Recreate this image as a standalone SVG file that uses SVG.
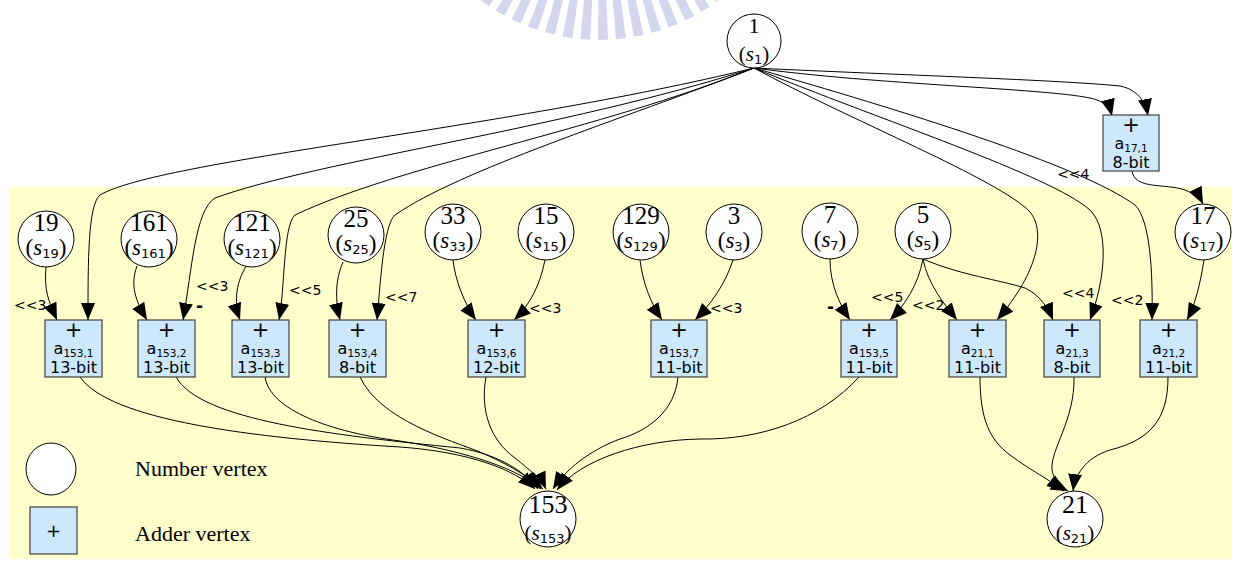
<svg xmlns="http://www.w3.org/2000/svg" width="1234" height="561" viewBox="0 0 1234 561">
  <defs>
    <marker id="ah" markerUnits="userSpaceOnUse" markerWidth="20" markerHeight="16" refX="17" refY="7" orient="auto">
      <path d="M0,0 L17,7 L0,14 z" fill="#000"/>
    </marker>
    <clipPath id="seal">
      <circle cx="600" cy="-160" r="200"/>
    </clipPath>
    <style>
      .num { font-family: "Liberation Serif", serif; font-size: 25px; text-anchor: middle; fill: #000; }
      .sv { font-family: "Liberation Serif", serif; font-size: 23px; text-anchor: middle; fill: #000; }
      .it { font-style: italic; }
      .ssub { font-family: "DejaVu Sans", sans-serif; font-size: 13px; }
      .nv circle, .nv ellipse { fill: #fff; stroke: #000; stroke-width: 1; }
      .av rect { fill: #cce8fa; stroke: #404040; stroke-width: 1.2; }
      .plus { font-family: "DejaVu Sans", sans-serif; font-size: 21px; text-anchor: middle; fill: #000; }
      .bl { font-family: "DejaVu Sans", sans-serif; font-size: 16px; text-anchor: middle; fill: #000; }
      .bs { font-size: 10.5px; }
      .lbl { font-family: "DejaVu Sans", sans-serif; font-size: 14px; fill: #000; }
      .neg { font-family: "DejaVu Sans", sans-serif; font-size: 17px; font-weight: bold; fill: #000; }
      .leg { font-family: "Liberation Serif", serif; font-size: 22px; fill: #000; }
      #edges path { fill: none; stroke: #000; stroke-width: 1; marker-end: url(#ah); }
    </style>
  </defs>

  <!-- faint striped seal at the top -->
  <g id="seal-mark" clip-path="url(#seal)" fill="#d3d7ee">
    <path d="M600,-160 L474.4,-4.4 L466.8,-10.3 z"/>
    <path d="M600,-160 L488.9,6.3 L480.7,1.1 z"/>
    <path d="M600,-160 L504.3,15.6 L495.5,11.2 z"/>
    <path d="M600,-160 L520.6,23.5 L511.3,19.9 z"/>
    <path d="M600,-160 L537.5,30.0 L527.9,27.2 z"/>
    <path d="M600,-160 L554.8,34.8 L545.0,32.8 z"/>
    <path d="M600,-160 L572.4,38.1 L562.5,36.9 z"/>
    <path d="M600,-160 L590.2,39.8 L580.2,39.4 z"/>
    <path d="M600,-160 L608.0,39.8 L598.0,40.0 z"/>
    <path d="M600,-160 L625.9,38.3 L615.9,39.2 z"/>
    <path d="M600,-160 L643.6,35.2 L633.8,36.8 z"/>
    <path d="M600,-160 L661.0,30.5 L651.3,32.8 z"/>
    <path d="M600,-160 L677.9,24.2 L668.5,27.3 z"/>
    <path d="M600,-160 L694.3,16.4 L685.1,20.3 z"/>
    <path d="M600,-160 L709.8,7.1 L701.0,11.8 z"/>
    <path d="M600,-160 L724.4,-3.5 L716.1,1.9 z"/>
  </g>

  <!-- shaded working area -->
  <rect id="area" x="9" y="187" width="1223" height="372" fill="#ffffcc"/>

  <!-- connectors -->
  <g id="edges">
    <!-- from vertex 1 -->
    <path d="M754,68 C500,130 160,160 100,195 C88,205 88,260 88,320"/>
    <path d="M754,68 C560,130 320,160 215,198 C195,210 192,270 183,320"/>
    <path d="M754,68 C600,130 400,165 295,215 C283,225 285,290 279,320"/>
    <path d="M754,68 C620,120 460,170 395,215 C383,225 380,290 377,320"/>
    <path d="M754,68 C850,120 1000,180 1030,212 C1045,230 1040,270 997,320"/>
    <path d="M754,68 C880,120 1050,175 1090,210 C1110,230 1105,280 1090,320"/>
    <path d="M754,68 C900,110 1080,165 1135,205 C1150,220 1153,270 1152,320"/>
    <path d="M754,68 C880,85 1040,88 1090,98 C1105,101 1110,108 1112,116"/>
    <path d="M754,68 C900,75 1060,80 1120,86 C1140,90 1146,105 1148,116"/>
    <!-- a17,1 to 17 -->
    <path d="M1132,171 C1135,190 1165,183 1185,190 C1195,194 1200,198 1203,204"/>
    <!-- number vertices into adders -->
    <path d="M46,267 C44,290 48,300 57,320"/>
    <path d="M137,266 C130,285 135,300 147,320"/>
    <path d="M247,265 C237,280 233,300 240,320"/>
    <path d="M343,262 C335,280 335,300 340,320"/>
    <path d="M453,260 C455,280 465,305 476,320"/>
    <path d="M545,260 C540,285 530,305 514,320"/>
    <path d="M640,260 C643,285 652,305 662,320"/>
    <path d="M733,260 C725,285 710,305 695,320"/>
    <path d="M830,259 C830,285 840,305 850,320"/>
    <path d="M923,259 C918,285 905,305 890,320"/>
    <path d="M923,259 C928,285 945,305 957,320"/>
    <path d="M923,259 C960,275 1000,280 1025,288 C1040,295 1048,308 1053,320"/>
    <path d="M1204,260 C1200,285 1195,305 1187,320"/>
    <!-- adders into 153 -->
    <path d="M80,377 C110,420 250,438 400,447 C470,452 515,470 535,489"/>
    <path d="M176,377 C200,420 330,435 460,448 C500,455 525,472 538,489"/>
    <path d="M265,377 C270,410 330,432 400,441 C470,452 520,470 541,489"/>
    <path d="M360,377 C380,420 450,440 480,452 C510,465 530,478 543,489"/>
    <path d="M486,377 C480,410 490,440 515,458 C530,470 542,480 546,489"/>
    <path d="M678,377 C675,410 650,430 620,439 C590,450 565,470 553,489"/>
    <path d="M859,377 C820,420 760,440 700,439 C640,440 580,460 557,490"/>
    <!-- adders into 21 -->
    <path d="M980,377 C980,420 990,440 1010,455 C1030,470 1050,480 1064,491"/>
    <path d="M1074,377 C1075,420 1050,450 1052,470 C1054,480 1060,487 1068,491"/>
    <path d="M1168,377 C1168,420 1150,440 1110,450 C1085,458 1075,475 1073,491"/>
  </g>

  <!-- shift / sign labels -->
  <g id="labels">
    <text class="lbl" x="14" y="310">&lt;&lt;3</text>
    <text class="lbl" x="196" y="291">&lt;&lt;3</text>
    <text class="neg" x="196" y="312">-</text>
    <text class="lbl" x="289" y="295">&lt;&lt;5</text>
    <text class="lbl" x="385" y="302">&lt;&lt;7</text>
    <text class="lbl" x="529" y="313">&lt;&lt;3</text>
    <text class="lbl" x="710" y="313">&lt;&lt;3</text>
    <text class="neg" x="827" y="313">-</text>
    <text class="lbl" x="871" y="302">&lt;&lt;5</text>
    <text class="lbl" x="912" y="310">&lt;&lt;2</text>
    <text class="lbl" x="1062" y="298">&lt;&lt;4</text>
    <text class="lbl" x="1111" y="305">&lt;&lt;2</text>
    <text class="lbl" x="1057" y="179">&lt;&lt;4</text>
  </g>

  <!-- number vertices -->
  <g id="n1" class="nv"><circle cx="754" cy="41" r="27"/>
    <text class="num" x="754" y="33" style="font-size:22px">1</text>
    <text class="sv" x="754" y="61" style="font-size:21px">(<tspan class="it">s</tspan><tspan class="ssub" dy="3">1</tspan><tspan dy="-3">)</tspan></text></g>
  <g id="n19" class="nv"><circle cx="46" cy="239" r="28"/>
    <text class="num" x="46" y="231">19</text>
    <text class="sv" x="46" y="255">(<tspan class="it">s</tspan><tspan class="ssub" dy="3">19</tspan><tspan dy="-3">)</tspan></text></g>
  <g id="n161" class="nv"><circle cx="149" cy="239" r="28"/>
    <text class="num" x="149" y="231">161</text>
    <text class="sv" x="149" y="255">(<tspan class="it">s</tspan><tspan class="ssub" dy="3">161</tspan><tspan dy="-3">)</tspan></text></g>
  <g id="n121" class="nv"><circle cx="252" cy="239" r="28"/>
    <text class="num" x="252" y="231">121</text>
    <text class="sv" x="252" y="255">(<tspan class="it">s</tspan><tspan class="ssub" dy="3">121</tspan><tspan dy="-3">)</tspan></text></g>
  <g id="n25" class="nv"><circle cx="356" cy="235" r="28"/>
    <text class="num" x="356" y="227">25</text>
    <text class="sv" x="356" y="251">(<tspan class="it">s</tspan><tspan class="ssub" dy="3">25</tspan><tspan dy="-3">)</tspan></text></g>
  <g id="n33" class="nv"><circle cx="453" cy="232" r="28"/>
    <text class="num" x="453" y="224">33</text>
    <text class="sv" x="453" y="248">(<tspan class="it">s</tspan><tspan class="ssub" dy="3">33</tspan><tspan dy="-3">)</tspan></text></g>
  <g id="n15" class="nv"><circle cx="546" cy="232" r="28"/>
    <text class="num" x="546" y="224">15</text>
    <text class="sv" x="546" y="248">(<tspan class="it">s</tspan><tspan class="ssub" dy="3">15</tspan><tspan dy="-3">)</tspan></text></g>
  <g id="n129" class="nv"><circle cx="641" cy="232" r="28"/>
    <text class="num" x="641" y="224">129</text>
    <text class="sv" x="641" y="248">(<tspan class="it">s</tspan><tspan class="ssub" dy="3">129</tspan><tspan dy="-3">)</tspan></text></g>
  <g id="n3" class="nv"><circle cx="734" cy="232" r="28"/>
    <text class="num" x="734" y="224">3</text>
    <text class="sv" x="734" y="248">(<tspan class="it">s</tspan><tspan class="ssub" dy="3">3</tspan><tspan dy="-3">)</tspan></text></g>
  <g id="n7" class="nv"><circle cx="830" cy="231" r="28"/>
    <text class="num" x="830" y="223">7</text>
    <text class="sv" x="830" y="247">(<tspan class="it">s</tspan><tspan class="ssub" dy="3">7</tspan><tspan dy="-3">)</tspan></text></g>
  <g id="n5" class="nv"><circle cx="923" cy="231" r="28"/>
    <text class="num" x="923" y="223">5</text>
    <text class="sv" x="923" y="247">(<tspan class="it">s</tspan><tspan class="ssub" dy="3">5</tspan><tspan dy="-3">)</tspan></text></g>
  <g id="n17" class="nv"><circle cx="1203" cy="232" r="28"/>
    <text class="num" x="1203" y="224">17</text>
    <text class="sv" x="1203" y="248">(<tspan class="it">s</tspan><tspan class="ssub" dy="3">17</tspan><tspan dy="-3">)</tspan></text></g>
  <g id="n153" class="nv"><circle cx="548" cy="519" r="28"/>
    <text class="num" x="548" y="513" style="font-size:26px">153</text>
    <text class="sv" x="548" y="540" style="font-size:21px">(<tspan class="it">s</tspan><tspan class="ssub" dy="3">153</tspan><tspan dy="-3">)</tspan></text></g>
  <g id="n21" class="nv"><circle cx="1075" cy="519" r="28"/>
    <text class="num" x="1075" y="513" style="font-size:26px">21</text>
    <text class="sv" x="1075" y="540" style="font-size:21px">(<tspan class="it">s</tspan><tspan class="ssub" dy="3">21</tspan><tspan dy="-3">)</tspan></text></g>

  <!-- adder vertices -->
  <g id="a17_1" class="av"><rect x="1103" y="115" width="56" height="56"/>
    <text class="plus" x="1131" y="132">+</text>
    <text class="bl" x="1131" y="149">a<tspan class="bs" dy="3">17,1</tspan></text>
    <text class="bl" x="1131" y="168">8-bit</text></g>
  <g id="a153_1" class="av"><rect x="45" y="320" width="57" height="57"/>
    <text class="plus" x="73.5" y="337">+</text>
    <text class="bl" x="73.5" y="354">a<tspan class="bs" dy="3">153,1</tspan></text>
    <text class="bl" x="73.5" y="373">13-bit</text></g>
  <g id="a153_2" class="av"><rect x="138" y="320" width="57" height="57"/>
    <text class="plus" x="166.5" y="337">+</text>
    <text class="bl" x="166.5" y="354">a<tspan class="bs" dy="3">153,2</tspan></text>
    <text class="bl" x="166.5" y="373">13-bit</text></g>
  <g id="a153_3" class="av"><rect x="232" y="320" width="57" height="57"/>
    <text class="plus" x="260.5" y="337">+</text>
    <text class="bl" x="260.5" y="354">a<tspan class="bs" dy="3">153,3</tspan></text>
    <text class="bl" x="260.5" y="373">13-bit</text></g>
  <g id="a153_4" class="av"><rect x="329" y="320" width="57" height="57"/>
    <text class="plus" x="357.5" y="337">+</text>
    <text class="bl" x="357.5" y="354">a<tspan class="bs" dy="3">153,4</tspan></text>
    <text class="bl" x="357.5" y="373">8-bit</text></g>
  <g id="a153_6" class="av"><rect x="468" y="320" width="57" height="57"/>
    <text class="plus" x="496.5" y="337">+</text>
    <text class="bl" x="496.5" y="354">a<tspan class="bs" dy="3">153,6</tspan></text>
    <text class="bl" x="496.5" y="373">12-bit</text></g>
  <g id="a153_7" class="av"><rect x="651" y="320" width="56" height="57"/>
    <text class="plus" x="679" y="337">+</text>
    <text class="bl" x="679" y="354">a<tspan class="bs" dy="3">153,7</tspan></text>
    <text class="bl" x="679" y="373">11-bit</text></g>
  <g id="a153_5" class="av"><rect x="841" y="320" width="56" height="57"/>
    <text class="plus" x="869" y="337">+</text>
    <text class="bl" x="869" y="354">a<tspan class="bs" dy="3">153,5</tspan></text>
    <text class="bl" x="869" y="373">11-bit</text></g>
  <g id="a21_1" class="av"><rect x="949" y="320" width="57" height="57"/>
    <text class="plus" x="977.5" y="337">+</text>
    <text class="bl" x="977.5" y="354">a<tspan class="bs" dy="3">21,1</tspan></text>
    <text class="bl" x="977.5" y="373">11-bit</text></g>
  <g id="a21_3" class="av"><rect x="1044" y="320" width="56" height="57"/>
    <text class="plus" x="1072" y="337">+</text>
    <text class="bl" x="1072" y="354">a<tspan class="bs" dy="3">21,3</tspan></text>
    <text class="bl" x="1072" y="373">8-bit</text></g>
  <g id="a21_2" class="av"><rect x="1140" y="320" width="57" height="57"/>
    <text class="plus" x="1168.5" y="337">+</text>
    <text class="bl" x="1168.5" y="354">a<tspan class="bs" dy="3">21,2</tspan></text>
    <text class="bl" x="1168.5" y="373">11-bit</text></g>

  <!-- legend -->
  <g id="legend">
    <g class="nv"><ellipse cx="51" cy="469" rx="25" ry="26"/></g>
    <text class="leg" x="135" y="476">Number vertex</text>
    <g class="av"><rect x="30" y="507" width="47" height="47"/></g>
    <text class="plus" x="53.5" y="537" style="font-size:18px">+</text>
    <text class="leg" x="135" y="541">Adder vertex</text>
  </g>
</svg>
